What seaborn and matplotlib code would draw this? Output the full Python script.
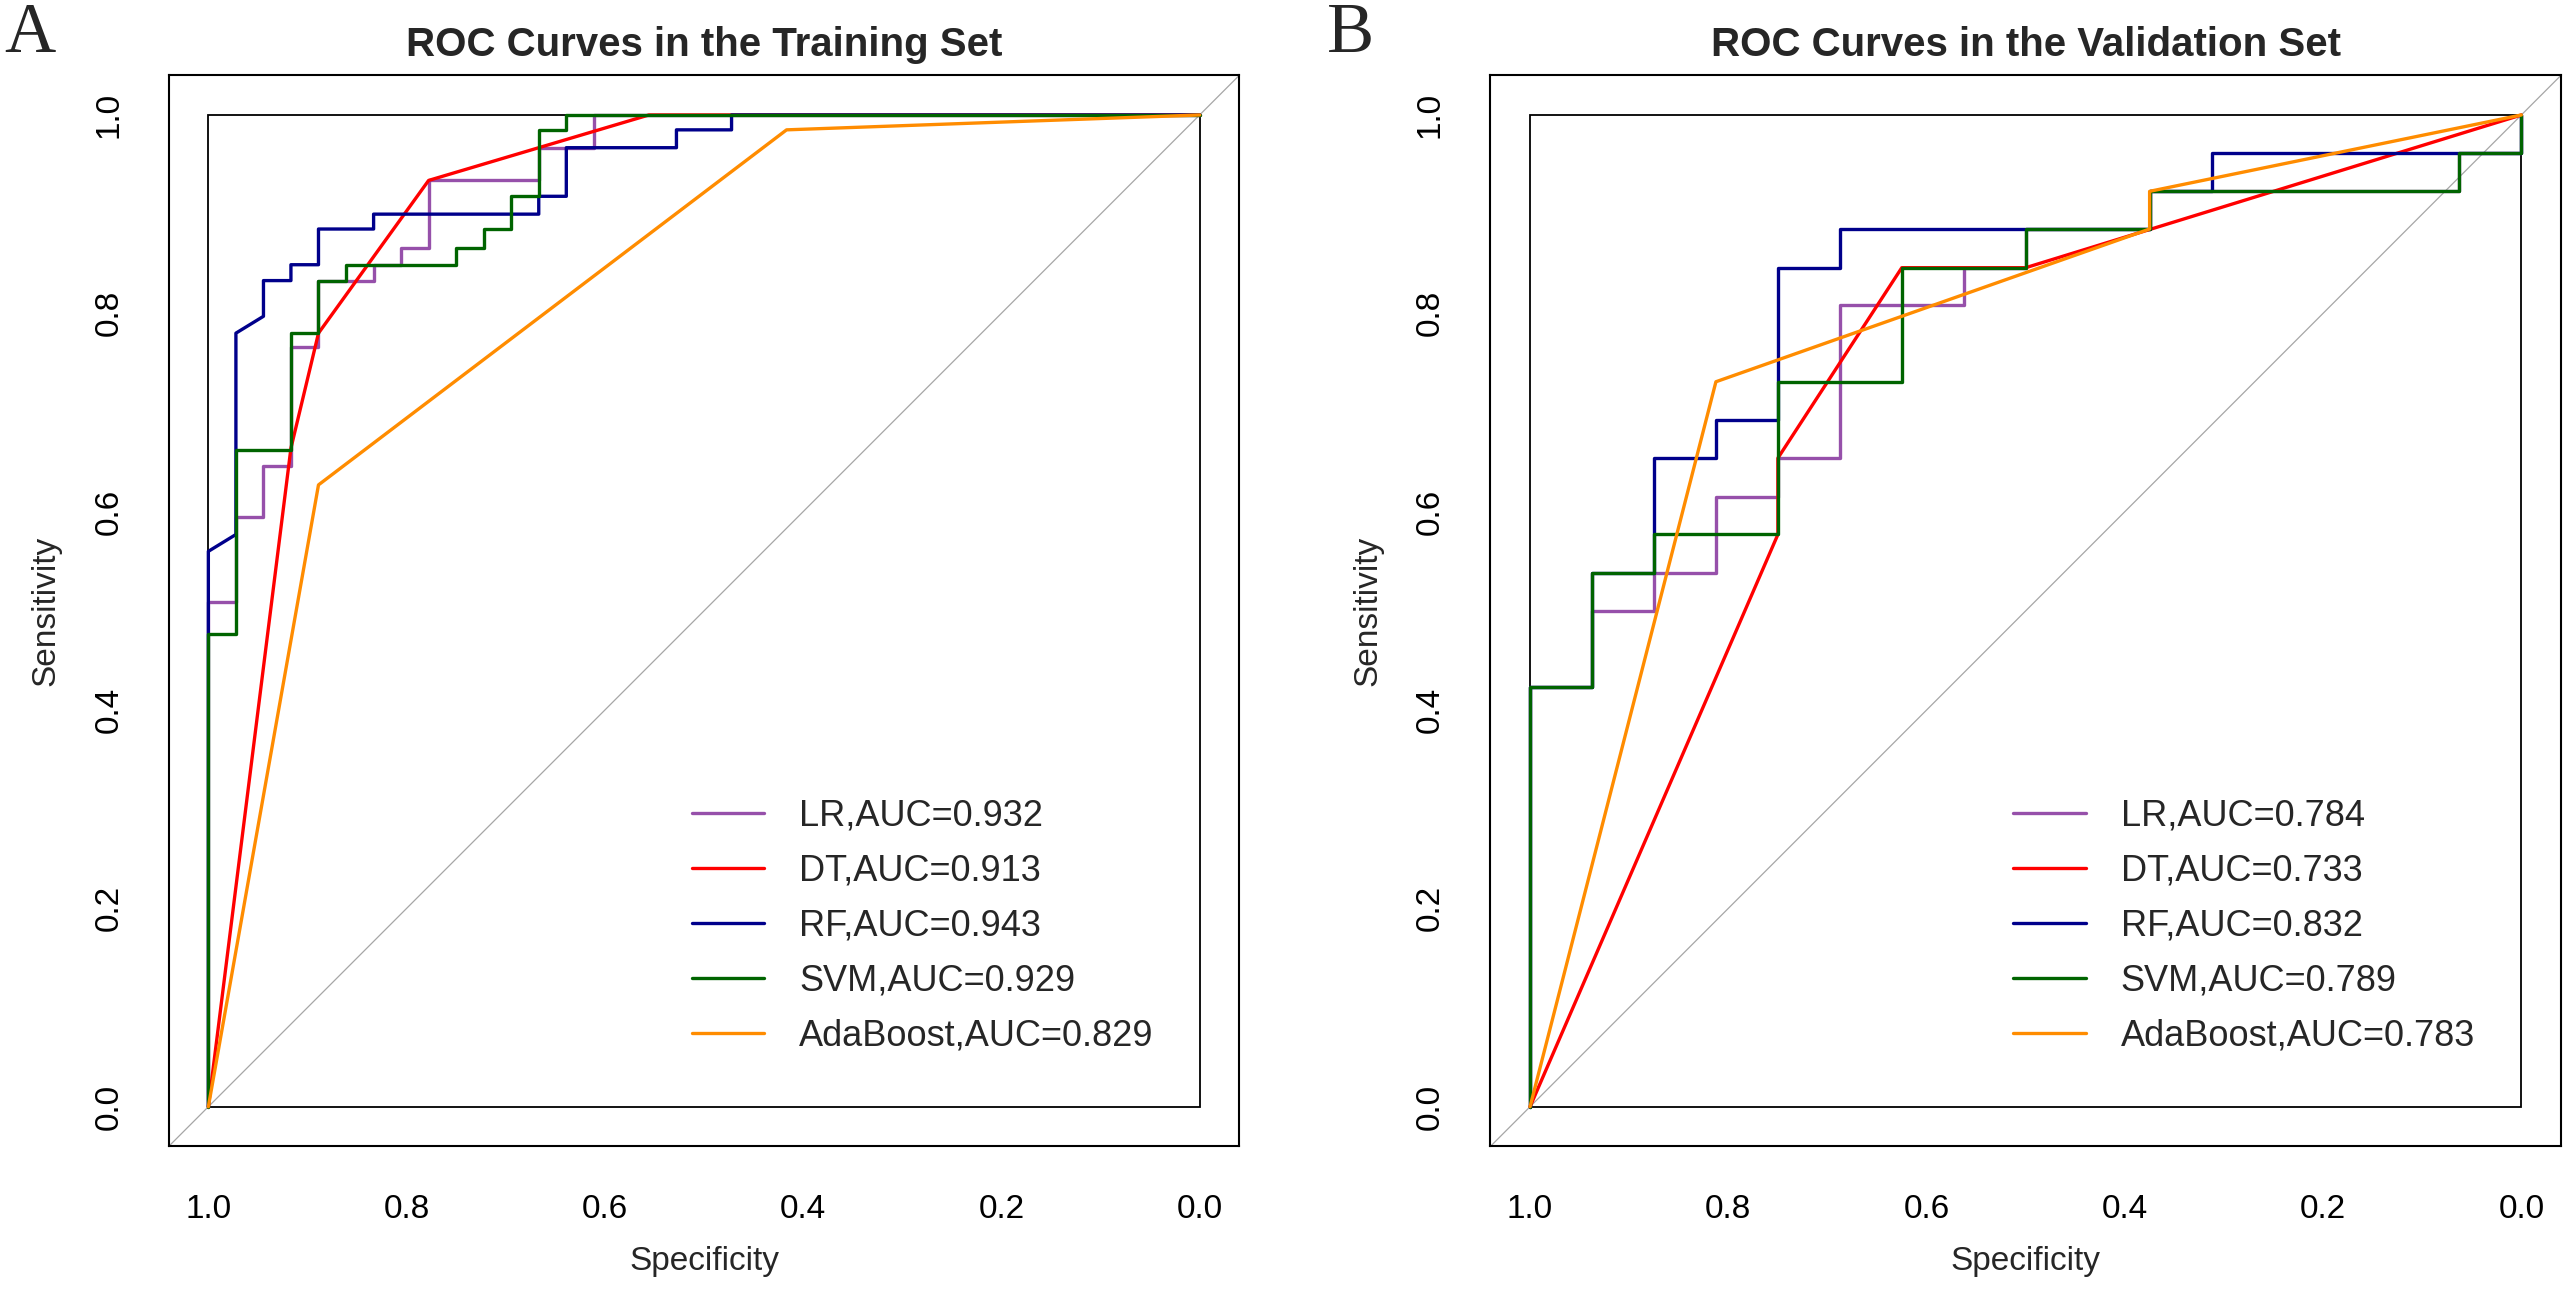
import numpy as np
import pandas as pd
import matplotlib
matplotlib.use("Agg")
import matplotlib.pyplot as plt
import seaborn as sns
from matplotlib.patches import Rectangle

# ---------------- data ----------------
models = ["LR", "DT", "RF", "SVM", "AdaBoost"]
colors = ["#9650AA", "#FF0000", "#00008B", "#006400", "#FF8C00"]
train_auc = [0.932, 0.913, 0.943, 0.929, 0.829]
valid_auc = [0.784, 0.733, 0.832, 0.789, 0.783]
tick_values = [1.0, 0.8, 0.6, 0.4, 0.2, 0.0]
tick_labels = ["1.0", "0.8", "0.6", "0.4", "0.2", "0.0"]

# Training set: false-positive rate (1 - specificity) and sensitivity
train_lr_fpr = [0, 0, 0.0278, 0.0278, 0.0556, 0.0556, 0.0833, 0.0833, 0.1111, 0.1111,
                0.1667, 0.1667, 0.1944, 0.1944, 0.2222, 0.2222, 0.3333, 0.3333, 0.3889, 0.3889, 1.0]
train_lr_sens = [0, 0.509, 0.509, 0.595, 0.595, 0.646, 0.646, 0.766, 0.766, 0.833,
                 0.833, 0.849, 0.849, 0.866, 0.866, 0.934, 0.934, 0.967, 0.967, 1.0, 1.0]
train_dt_fpr = [0, 0.0833, 0.1111, 0.2222, 0.4444, 1.0]
train_dt_sens = [0, 0.664, 0.780, 0.934, 1.0, 1.0]
train_rf_fpr = [0, 0, 0.0278, 0.0278, 0.0556, 0.0556, 0.0833, 0.0833, 0.1111, 0.1111,
                0.1667, 0.1667, 0.3333, 0.3333, 0.3611, 0.3611, 0.4722, 0.4722, 0.5278, 0.5278, 1.0]
train_rf_sens = [0, 0.560, 0.577, 0.780, 0.797, 0.833, 0.833, 0.849, 0.849, 0.885,
                 0.885, 0.900, 0.900, 0.918, 0.918, 0.967, 0.967, 0.985, 0.985, 1.0, 1.0]
train_svm_fpr = [0, 0, 0.0278, 0.0278, 0.0833, 0.0833, 0.1111, 0.1111, 0.1389, 0.1389,
                 0.25, 0.25, 0.2778, 0.2778, 0.3056, 0.3056, 0.3333, 0.3333, 0.3611, 0.3611, 1.0]
train_svm_sens = [0, 0.477, 0.477, 0.662, 0.662, 0.780, 0.780, 0.833, 0.833, 0.849,
                  0.849, 0.866, 0.866, 0.885, 0.885, 0.918, 0.918, 0.985, 0.985, 1.0, 1.0]
train_ada_fpr = [0, 0.1111, 0.5833, 1.0]
train_ada_sens = [0, 0.627, 0.985, 1.0]

# Validation set
valid_lr_fpr = [0, 0, 0.0625, 0.0625, 0.125, 0.125, 0.1875, 0.1875, 0.25, 0.25, 0.3125,
                0.3125, 0.4375, 0.4375, 0.5, 0.5, 0.625, 0.625, 0.9375, 0.9375, 1.0, 1.0]
valid_lr_sens = [0, 0.423, 0.423, 0.500, 0.500, 0.538, 0.538, 0.615, 0.615, 0.654, 0.654,
                 0.808, 0.808, 0.846, 0.846, 0.885, 0.885, 0.923, 0.923, 0.962, 0.962, 1.0]
valid_dt_fpr = [0, 0.25, 0.25, 0.375, 0.5, 1.0]
valid_dt_sens = [0, 0.577, 0.654, 0.846, 0.846, 1.0]
valid_rf_fpr = [0, 0, 0.0625, 0.0625, 0.125, 0.125, 0.1875, 0.1875, 0.25, 0.25, 0.3125,
                0.3125, 0.625, 0.625, 0.6875, 0.6875, 1.0, 1.0]
valid_rf_sens = [0, 0.423, 0.423, 0.538, 0.538, 0.654, 0.654, 0.692, 0.692, 0.846, 0.846,
                 0.885, 0.885, 0.923, 0.923, 0.962, 0.962, 1.0]
valid_svm_fpr = [0, 0, 0.0625, 0.0625, 0.125, 0.125, 0.25, 0.25, 0.375, 0.375, 0.5, 0.5,
                 0.625, 0.625, 0.9375, 0.9375, 1.0, 1.0]
valid_svm_sens = [0, 0.423, 0.423, 0.538, 0.538, 0.577, 0.577, 0.731, 0.731, 0.846, 0.846,
                  0.885, 0.885, 0.923, 0.923, 0.962, 0.962, 1.0]
valid_ada_fpr = [0, 0.1875, 0.625, 0.625, 1.0]
valid_ada_sens = [0, 0.731, 0.885, 0.923, 1.0]

train_curves = [(train_lr_fpr, train_lr_sens), (train_dt_fpr, train_dt_sens),
                (train_rf_fpr, train_rf_sens), (train_svm_fpr, train_svm_sens),
                (train_ada_fpr, train_ada_sens)]
valid_curves = [(valid_lr_fpr, valid_lr_sens), (valid_dt_fpr, valid_dt_sens),
                (valid_rf_fpr, valid_rf_sens), (valid_svm_fpr, valid_svm_sens),
                (valid_ada_fpr, valid_ada_sens)]


def build_frame(curves, aucs):
    rows = []
    labels = []
    for m, (fpr, sens), auc in zip(models, curves, aucs):
        lab = f"{m},AUC={auc:.3f}"
        labels.append(lab)
        for i, (f, s) in enumerate(zip(fpr, sens)):
            rows.append({"label": lab, "order": i, "spec": 1.0 - f, "sens": s})
    return pd.DataFrame(rows), labels


# ---------------- style ----------------
sns.set_style("white")
plt.rcParams["font.family"] = ["Liberation Sans", "DejaVu Sans"]
plt.rcParams["axes.edgecolor"] = "black"
plt.rcParams["axes.linewidth"] = 1.5

W, H = 2568, 1300
fig = plt.figure(figsize=(W / 100, H / 100), dpi=100)

ax_w = 1070.6 / W
ax_h = 1071.1 / H
ax_b = (H - 1146.4) / H
axes = [fig.add_axes([168.7 / W, ax_b, ax_w, ax_h]),
        fig.add_axes([1490.4 / W, ax_b, ax_w, ax_h])]

panels = [("ROC Curves in the Training Set", train_curves, train_auc, "A", 4),
          ("ROC Curves in the Validation Set", valid_curves, valid_auc, "B", 1327)]

for ax, (title, curves, aucs, letter, lx) in zip(axes, panels):
    df, labels = build_frame(curves, aucs)
    pal = dict(zip(labels, colors))
    ax.axline((1, 0), (0, 1), color="#A6A6A6", lw=0.9, zorder=1)
    ax.add_patch(Rectangle((0, 0), 1, 1, fill=False, ec="black", lw=1.3, zorder=1.5))
    sns.lineplot(data=df, x="spec", y="sens", hue="label", hue_order=labels,
                 palette=pal, sort=False, estimator=None, errorbar=None,
                 linewidth=2.4, ax=ax, legend=True, zorder=3)
    ax.set_xlim(1.04, -0.04)
    ax.set_ylim(-0.04, 1.04)
    ax.set_xticks(tick_values)
    ax.set_xticklabels(tick_labels)
    ax.set_yticks(tick_values)
    ax.set_yticklabels(tick_labels, rotation=90, va="center")
    ax.tick_params(axis="both", direction="out", length=15, width=1.5,
                   labelsize=24, colors="black")
    ax.tick_params(axis="x", pad=19)
    ax.tick_params(axis="y", pad=17)
    for sp in ax.spines.values():
        sp.set_visible(True)
        sp.set_color("black")
        sp.set_linewidth(1.5)
    ax.set_xlabel("Specificity", fontsize=24)
    ax.set_ylabel("Sensitivity", fontsize=24)
    ax.xaxis.label.set_va("center")
    ax.yaxis.label.set_va("center")
    ax.xaxis.set_label_coords(0.5, -0.107)
    ax.yaxis.set_label_coords(-0.1146, 0.5)
    ax.set_title(title, fontsize=29, fontweight="bold", pad=14)
    handles, labs = ax.get_legend_handles_labels()
    ax.legend(handles, labs, loc="upper left", bbox_to_anchor=(0.4885, 0.3245),
              frameon=False, fontsize=26, handlelength=2.0, handletextpad=0.97,
              labelspacing=0.55, borderpad=0, borderaxespad=0)
    fig.text(lx / W, (H - 52) / H, letter, fontsize=51, ha="left", va="baseline",
             family=["Liberation Serif", "DejaVu Serif"])

fig.savefig("out.png", dpi=100, facecolor="white")
